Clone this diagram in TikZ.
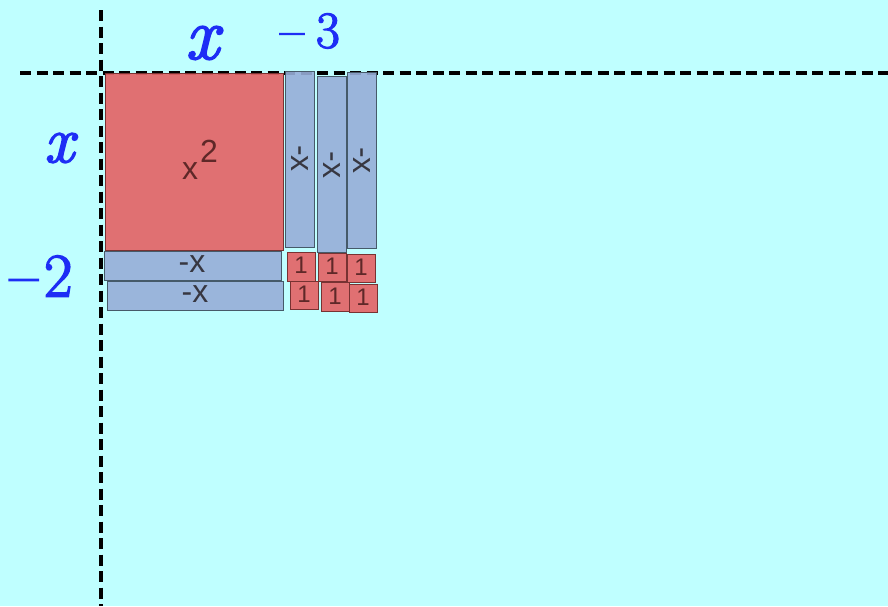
\documentclass[tikz,border=0pt]{standalone}
\usepackage{fontspec}
\setsansfont{Liberation Sans}
\newfontfamily\inkfont[FakeBold=2.5]{Latin Modern Roman}
\definecolor{bgc}{RGB}{191,255,255}
\definecolor{redf}{RGB}{227,100,102}
\definecolor{redd}{RGB}{120,50,50}
\definecolor{bluef}{RGB}{151,174,216}
\definecolor{blued}{RGB}{70,90,105}
\definecolor{labc}{RGB}{55,55,65}
\definecolor{redlab}{RGB}{95,40,40}
\definecolor{inkc}{RGB}{30,45,245}
\begin{document}
\begin{tikzpicture}[x=1pt,y=-1pt,
  axis/.style={line width=4pt,dash pattern=on 11pt off 5.5pt,black},
  redtile/.style={fill=redf,draw=redd,line width=0.8pt,fill opacity=0.92},
  bluetile/.style={fill=bluef,draw=blued,line width=0.8pt,fill opacity=0.9},
  tilelabel/.style={inner sep=0pt,text=labc,font=\sffamily\fontsize{32}{32}\selectfont},
  unitlabel/.style={inner sep=0pt,text=redlab,font=\sffamily\fontsize{24}{24}\selectfont},
  ink/.style={inner sep=0pt,text=inkc}]
\useasboundingbox (0,0) rectangle (888,606);
\fill[bgc] (0,0) rectangle (888,606);
% axes
\coordinate (vtop) at (101,10);
\coordinate (vbot) at (101,606);
\coordinate (hl) at (20,73);
\coordinate (hr) at (888,73);
\draw[axis] (vtop) -- (vbot);
\draw[axis] (hl) -- (hr);
% x^2 tile
\path[redtile] (105,73) rectangle (283,250);
\node[tilelabel,text=redlab,anchor=base west] (sqx) at (182,179) {x};
\node[tilelabel,text=redlab,anchor=base west] (sq2) at (200,162) {2};
% vertical -x tiles
\path[bluetile] (285,71) rectangle (314,247);
\node[tilelabel,rotate=-90] (v1) at (300,158.5) {-x};
\path[bluetile] (317,76) rectangle (346,252);
\node[tilelabel,rotate=-90] (v2) at (332,165) {-x};
\path[bluetile] (347,72) rectangle (376,248);
\node[tilelabel,rotate=-90] (v3) at (362,160.5) {-x};
% horizontal -x tiles
\path[bluetile] (104,251) rectangle (281,280);
\node[tilelabel] (h1) at (192,264) {-x};
\path[bluetile] (107,281) rectangle (283,310);
\node[tilelabel] (h2) at (195,294) {-x};
% unit tiles
\path[redtile] (287,252) rectangle (315,281);
\node[unitlabel] (u1) at (301,265) {1};
\path[redtile] (318,253) rectangle (346,281);
\node[unitlabel] (u2) at (332,266) {1};
\path[redtile] (347,254) rectangle (375,282);
\node[unitlabel] (u3) at (361,267.5) {1};
\path[redtile] (290,281) rectangle (318,309);
\node[unitlabel] (u4) at (304,294) {1};
\path[redtile] (321,282) rectangle (349,311);
\node[unitlabel] (u5) at (335,296) {1};
\path[redtile] (349,284) rectangle (377,312);
\node[unitlabel] (u6) at (363,297.5) {1};
% handwritten labels
\node[ink,font=\inkfont\itshape\fontsize{74}{74}\selectfont] (lx) at (202,43) {x};
\node[ink,font=\inkfont\fontsize{52}{52}\selectfont] (lm3) at (310,31) {–\hspace{12pt}3};
\node[ink,font=\inkfont\itshape\fontsize{66}{66}\selectfont] (ly) at (59,148) {x};
\node[ink,font=\inkfont\fontsize{62}{62}\selectfont] (lm2) at (41,276) {–\hspace{6pt}2};
\end{tikzpicture}
\end{document}
